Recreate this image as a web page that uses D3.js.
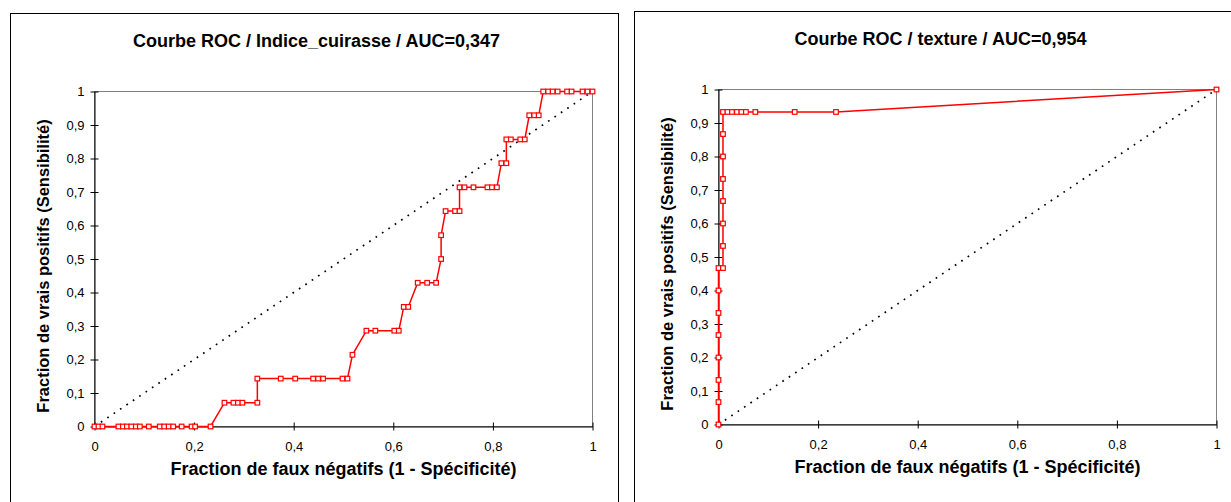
<!DOCTYPE html>
<html>
<head>
<meta charset="utf-8">
<script src="https://cdn.jsdelivr.net/npm/d3@7"></script>
<style>
  html, body { margin: 0; padding: 0; background: #fff; }
  svg { display: block; font-family: Arial, "Liberation Sans", sans-serif; }
</style>
</head>
<body>
<div id="chart"></div>
<script>
// ROC points (x = 1 - specificity, y = sensitivity)
var cuirasseFPR = [0, 0.008, 0.016, 0.048, 0.057, 0.065, 0.074, 0.083, 0.091, 0.109, 0.131, 0.140, 0.149, 0.158, 0.175, 0.195, 0.202, 0.233,
  0.261, 0.279, 0.288, 0.297, 0.327,
  0.327, 0.374, 0.403, 0.439, 0.449, 0.459, 0.498, 0.508,
  0.518,
  0.546, 0.564, 0.602, 0.611,
  0.621, 0.630,
  0.649, 0.668, 0.686,
  0.696,
  0.696,
  0.705, 0.724, 0.733,
  0.733, 0.743, 0.761, 0.789, 0.798, 0.808,
  0.817, 0.827,
  0.827, 0.836, 0.855, 0.864,
  0.873, 0.883, 0.892,
  0.901, 0.911, 0.920, 0.930, 0.949, 0.958, 0.980, 0.990, 1];
var cuirasseTPR = [0, 0, 0, 0, 0, 0, 0, 0, 0, 0, 0, 0, 0, 0, 0, 0, 0, 0,
  0.071, 0.071, 0.071, 0.071, 0.071,
  0.143, 0.143, 0.143, 0.143, 0.143, 0.143, 0.143, 0.143,
  0.214,
  0.286, 0.286, 0.286, 0.286,
  0.357, 0.357,
  0.429, 0.429, 0.429,
  0.5,
  0.571,
  0.643, 0.643, 0.643,
  0.714, 0.714, 0.714, 0.714, 0.714, 0.714,
  0.786, 0.786,
  0.857, 0.857, 0.857, 0.857,
  0.929, 0.929, 0.929,
  1, 1, 1, 1, 1, 1, 1, 1, 1];

var textureFPR = [0, 0, 0, 0, 0, 0, 0, 0,
  0.009, 0.009, 0.009, 0.009, 0.009, 0.009, 0.009, 0.009,
  0.018, 0.027, 0.037, 0.046, 0.055, 0.074, 0.153, 0.236, 1];
var textureTPR = [0, 0.067, 0.133, 0.2, 0.267, 0.333, 0.4, 0.467,
  0.467, 0.533, 0.6, 0.667, 0.733, 0.8, 0.867, 0.933,
  0.933, 0.933, 0.933, 0.933, 0.933, 0.933, 0.933, 0.933, 1];

var xTicks = [0, 0.2, 0.4, 0.6, 0.8, 1];
var yTicks = [0, 0.1, 0.2, 0.3, 0.4, 0.5, 0.6, 0.7, 0.8, 0.9, 1];

var titles = ["Courbe ROC / Indice_cuirasse / AUC=0,347", "Courbe ROC / texture / AUC=0,954"];
var xTitle = "Fraction de faux négatifs (1 - Spécificité)";
var yTitle = "Fraction de vrais positifs (Sensibilité)";

var W = 1231, H = 502;
var svg = d3.select('#chart').append('svg').attr('width', W).attr('height', H);

//one panel per chart: frame, plot box (left/right/top/bottom of plot area)
var panels = [
  {frame: [10.5, 13.5, 608], plot: {l: 94.5, r: 592.5, t: 91.5, b: 426.5}, titleY: 47, fpr: cuirasseFPR, tpr: cuirasseTPR, title: titles[0]},
  {frame: [634.5, 11.5, 620], plot: {l: 718.5, r: 1216.5, t: 89.5, b: 424.5}, titleY: 45, fpr: textureFPR, tpr: textureTPR, title: titles[1]}
];

var fmt = function(d){ return String(d).replace('.', ','); };

panels.forEach(function(p){
  var g = svg.append('g');
  var pl = p.plot;

  //chart frame (runs off the bottom of the window)
  g.append('rect')
    .attr('x', p.frame[0]).attr('y', p.frame[1])
    .attr('width', p.frame[2]).attr('height', 600)
    .attr('fill', 'none').attr('stroke', '#000').attr('stroke-width', 1);

  var x = d3.scaleLinear().domain([0, 1]).range([pl.l, pl.r]);
  var y = d3.scaleLinear().domain([0, 1]).range([pl.b, pl.t]);

  //plot area border in gray
  g.append('rect')
    .attr('x', pl.l).attr('y', pl.t)
    .attr('width', pl.r - pl.l).attr('height', pl.b - pl.t)
    .attr('fill', 'none').attr('stroke', '#808080').attr('stroke-width', 1);

  //Title
  g.append('text')
    .attr('x', (pl.l + pl.r) / 2 - 27)
    .attr('y', p.titleY)
    .attr('text-anchor', 'middle')
    .style('font-size', '18px').style('font-weight', 'bold')
    .text(p.title);

  //X axis with ticks crossing the line
  g.append('g')
    .attr('transform', 'translate(0,' + pl.b + ')')
    .call(d3.axisBottom(x).tickValues(xTicks).tickFormat(fmt).tickSize(4).tickSizeOuter(0).tickPadding(11))
    .call(function(a){
      a.select('.domain').attr('stroke', '#000');
      a.selectAll('.tick line').attr('y1', -4).attr('stroke', '#000');
      a.selectAll('.tick text').style('font-size', '13px').attr('fill', '#000')
        .style('font-family', 'Arial, "Liberation Sans", sans-serif');
    });

  //Y axis
  g.append('g')
    .attr('transform', 'translate(' + pl.l + ',0)')
    .call(d3.axisLeft(y).tickValues(yTicks).tickFormat(fmt).tickSize(4).tickSizeOuter(0).tickPadding(6))
    .call(function(a){
      a.select('.domain').attr('stroke', '#000');
      a.selectAll('.tick line').attr('x1', 4).attr('stroke', '#000');
      a.selectAll('.tick text').style('font-size', '13px').attr('fill', '#000')
        .style('font-family', 'Arial, "Liberation Sans", sans-serif');
    });

  //Axis titles
  g.append('text')
    .attr('x', (pl.l + pl.r) / 2)
    .attr('y', pl.b + 48)
    .attr('text-anchor', 'middle')
    .style('font-size', '18px').style('font-weight', 'bold')
    .text(xTitle);

  g.append('text')
    .attr('transform', 'translate(' + (pl.l - 46) + ',' + ((pl.t + pl.b) / 2 + 7) + ') rotate(-90)')
    .attr('text-anchor', 'middle')
    .style('font-size', '16.5px').style('font-weight', 'bold')
    .text(yTitle);

  //Diagonal reference line (dotted)
  g.append('line')
    .attr('x1', x(0)).attr('y1', y(0)).attr('x2', x(1)).attr('y2', y(1))
    .attr('stroke', '#000').attr('stroke-width', 1.7)
    .attr('stroke-dasharray', '1.7,6');

  //ROC curve
  var pts = p.fpr.map(function(v, i){ return [v, p.tpr[i]]; });
  var line = d3.line().x(function(d){ return x(d[0]); }).y(function(d){ return y(d[1]); });
  g.append('path')
    .datum(pts)
    .attr('d', line)
    .attr('fill', 'none').attr('stroke', '#ff0000').attr('stroke-width', 1.5);

  //Square markers
  g.selectAll('rect.mk')
    .data(pts)
    .join('rect')
      .attr('class', 'mk')
      .attr('x', function(d){ return x(d[0]) - 2.3; })
      .attr('y', function(d){ return y(d[1]) - 2.3; })
      .attr('width', 4.6).attr('height', 4.6)
      .attr('fill', '#fff').attr('stroke', '#ff0000').attr('stroke-width', 1.2);
});
</script>
</body>
</html>
